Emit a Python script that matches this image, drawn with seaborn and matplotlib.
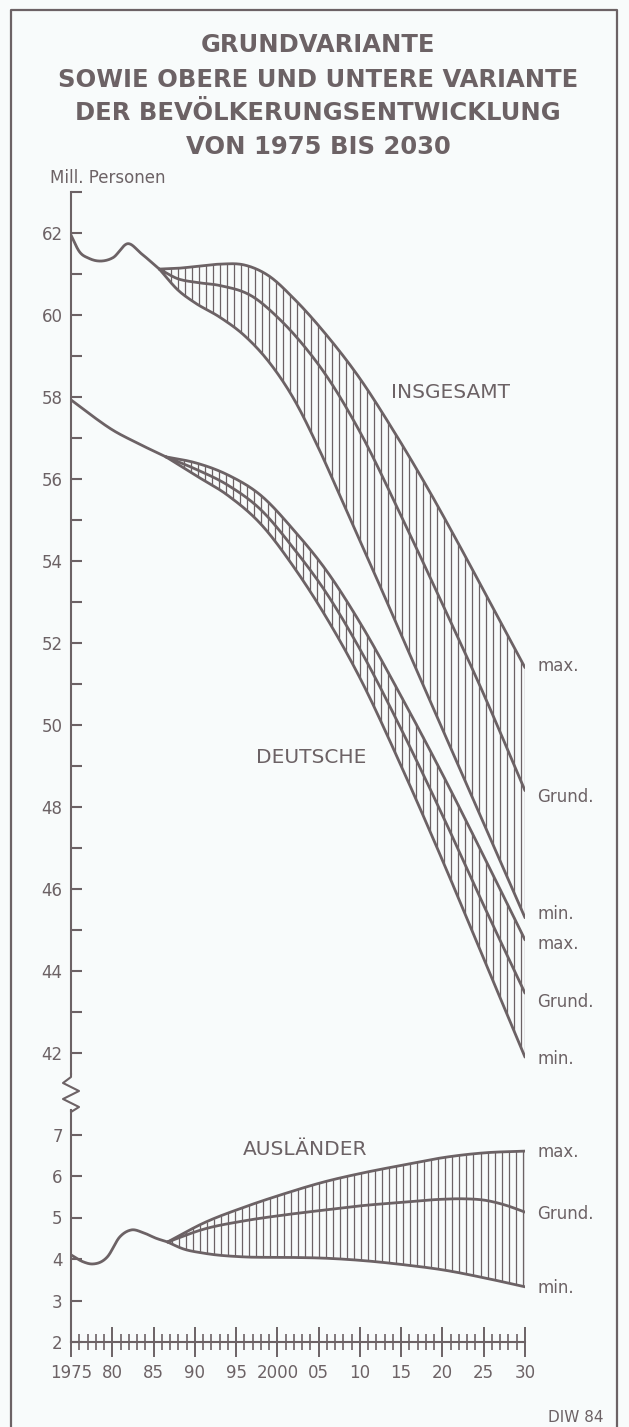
import numpy as np
import pandas as pd
import matplotlib
matplotlib.use("Agg")
import matplotlib.pyplot as plt
from matplotlib.lines import Line2D
import seaborn as sns

# ---- data (Mill. Personen) ----
# Insgesamt: common part up to the fork, then three variants
ins_common_years = [1975, 1976, 1977.2, 1978.9, 1980.1, 1981.9, 1983.5, 1985.7]
ins_common_vals = [61.95, 61.55, 61.38, 61.32, 61.40, 61.74, 61.50, 61.12]
ins_max_years = [1985.7, 1988, 1990, 1993, 1996, 1999, 2002, 2006, 2010, 2014, 2018, 2022, 2026, 2030]
ins_max_vals = [61.12, 61.14, 61.18, 61.24, 61.22, 60.95, 60.40, 59.50, 58.45, 57.20, 55.85, 54.40, 52.90, 51.40]
ins_grund_years = [1985.7, 1988, 1990, 1993, 1997, 2000, 2003, 2006, 2010, 2015, 2020, 2025, 2030]
ins_grund_vals = [61.12, 60.88, 60.80, 60.72, 60.45, 59.95, 59.30, 58.50, 57.15, 55.10, 52.95, 50.75, 48.40]
ins_min_years = [1985.7, 1988, 1990, 1993, 1996, 1999, 2002, 2005, 2008, 2011, 2015, 2020, 2025, 2030]
ins_min_vals = [61.12, 60.60, 60.30, 59.95, 59.50, 58.85, 57.95, 56.75, 55.40, 54.05, 52.20, 49.90, 47.60, 45.30]

# Deutsche
deu_common_years = [1975, 1977.5, 1980, 1983, 1986.5]
deu_common_vals = [57.93, 57.55, 57.20, 56.88, 56.54]
deu_branch_years = [1986.5, 1990, 1994, 1998, 2002, 2006, 2010, 2015, 2020, 2025, 2030]
deu_max_vals = [56.54, 56.40, 56.10, 55.60, 54.75, 53.75, 52.50, 50.70, 48.80, 46.80, 44.76]
deu_grund_vals = [56.54, 56.25, 55.85, 55.25, 54.30, 53.20, 51.85, 49.90, 47.80, 45.60, 43.46]
deu_min_vals = [56.54, 56.10, 55.60, 54.90, 53.85, 52.60, 51.15, 49.00, 46.70, 44.30, 41.90]

# Auslaender
aus_common_years = [1975, 1976.5, 1977.6, 1979.4, 1980.9, 1982.3, 1983.8, 1985.3, 1986.7]
aus_common_vals = [4.10, 3.93, 3.88, 4.05, 4.53, 4.70, 4.63, 4.50, 4.41]
aus_max_years = [1986.7, 1991.1, 1996, 2000.8, 2005.7, 2010.5, 2015.4, 2020.3, 2025.2, 2030]
aus_max_vals = [4.41, 4.87, 5.25, 5.57, 5.86, 6.08, 6.27, 6.45, 6.56, 6.60]
aus_grund_years = [1986.7, 1991.1, 1996, 2000.8, 2005.7, 2010.5, 2015.4, 2020, 2022.7, 2025, 2027.6, 2030]
aus_grund_vals = [4.41, 4.72, 4.92, 5.06, 5.18, 5.29, 5.37, 5.44, 5.45, 5.42, 5.30, 5.13]
aus_min_years = [1986.7, 1988.5, 1991.1, 1996, 2000.8, 2005.7, 2010.5, 2015.4, 2020.3, 2025.2, 2030]
aus_min_vals = [4.41, 4.25, 4.14, 4.05, 4.04, 4.02, 3.96, 3.86, 3.73, 3.54, 3.33]

x_ticks = [1975, 1980, 1985, 1990, 1995, 2000, 2005, 2010, 2015, 2020, 2025, 2030]
x_labels = ["1975", "80", "85", "90", "95", "2000", "05", "10", "15", "20", "25", "30"]

title_lines = ["GRUNDVARIANTE", "SOWIE OBERE UND UNTERE VARIANTE",
               "DER BEVÖLKERUNGSENTWICKLUNG", "VON 1975 BIS 2030"]

INK = "#6c6265"
BG = "#f8fbfb"
W, H = 629, 1427

sns.set_theme(style="white")
plt.rcParams["font.family"] = ["DejaVu Sans"]


def smooth(xp, yp, n=300):
    # cubic hermite through the read points, only for drawing smooth curves
    xp = np.asarray(xp, float)
    yp = np.asarray(yp, float)
    m = np.gradient(yp, xp)
    xs = np.linspace(xp[0], xp[-1], n)
    i = np.clip(np.searchsorted(xp, xs, side="right") - 1, 0, len(xp) - 2)
    h = xp[i + 1] - xp[i]
    t = (xs - xp[i]) / h
    h00 = 2 * t**3 - 3 * t**2 + 1
    h10 = t**3 - 2 * t**2 + t
    h01 = -2 * t**3 + 3 * t**2
    h11 = t**3 - t**2
    ys = h00 * yp[i] + h10 * h * m[i] + h01 * yp[i + 1] + h11 * h * m[i + 1]
    return xs, ys


def draw_group(ax, common, branches, hatch_step=0.85):
    cx, cy = smooth(*common)
    sns.lineplot(x=cx, y=cy, ax=ax, color=INK, lw=2.0, estimator=None, sort=False)
    curves = []
    for bx, by in branches:
        sx, sy = smooth(bx, by)
        curves.append((sx, sy))
        sns.lineplot(x=sx, y=sy, ax=ax, color=INK, lw=2.0, estimator=None, sort=False)
    # vertical hatching between upper and lower variant
    (mx, my), (nx, ny) = curves[0], curves[-1]
    start = max(mx[0], nx[0])
    hx = np.arange(start + hatch_step * 0.6, 2030, hatch_step)
    hx = np.append(hx, 2030)
    ax.vlines(hx, np.interp(hx, nx, ny), np.interp(hx, mx, my), color=INK, lw=0.9)


fig = plt.figure(figsize=(W / 100, H / 100), dpi=100)
fig.patch.set_facecolor(BG)

left = 71 / W
width = 454 / W
ax1 = fig.add_axes([left, 1 - 1073.5 / H, width, (1073.5 - 192) / H])
ax2 = fig.add_axes([left, 1 - 1342 / H, width, (1342 - 1109.6) / H])

for ax in (ax1, ax2):
    ax.set_facecolor("none")
    ax.set_xlim(1975, 2030)
    for s in ("top", "right"):
        ax.spines[s].set_visible(False)
    ax.spines["left"].set_color(INK)
    ax.spines["left"].set_linewidth(1.5)

# upper panel
ax1.set_ylim(41.5, 63)
ax1.spines["bottom"].set_visible(False)
ax1.set_xticks([])
ax1.set_yticks(range(42, 63, 2))
ax1.set_yticks(range(43, 64, 2), minor=True)
ax1.tick_params(axis="y", which="both", direction="in", length=8, width=1.5,
                color=INK, labelcolor=INK, labelsize=12, pad=6, left=True)

draw_group(ax1, (ins_common_years, ins_common_vals),
           [(ins_max_years, ins_max_vals), (ins_grund_years, ins_grund_vals),
            (ins_min_years, ins_min_vals)])
draw_group(ax1, (deu_common_years, deu_common_vals),
           [(deu_branch_years, deu_max_vals), (deu_branch_years, deu_grund_vals),
            (deu_branch_years, deu_min_vals)])

# lower panel
ax2.set_ylim(2, 7.6)
ax2.spines["bottom"].set_color(INK)
ax2.spines["bottom"].set_linewidth(1.5)
ax2.set_yticks(range(2, 8))
ax2.tick_params(axis="y", which="both", direction="in", length=8, width=1.5,
                color=INK, labelcolor=INK, labelsize=12, pad=6, left=True)
ax2.set_xticks(x_ticks)
ax2.set_xticklabels(x_labels, fontsize=12)
ax2.set_xticks(range(1975, 2031), minor=True)
ax2.tick_params(axis="x", which="major", direction="inout", length=21, width=1.4,
                color=INK, labelcolor=INK, pad=5, bottom=True)
ax2.tick_params(axis="x", which="minor", direction="inout", length=12, width=1.2,
                color=INK, bottom=True)

draw_group(ax2, (aus_common_years, aus_common_vals),
           [(aus_max_years, aus_max_vals), (aus_grund_years, aus_grund_vals),
            (aus_min_years, aus_min_vals)])

for ax in (ax1, ax2):
    ax.set_xlabel("")
    ax.set_ylabel("")

# curve labels
lab = dict(color=INK, fontsize=12, ha="left", va="center")
ax1.text(2031.5, 51.44, "max.", **lab)
ax1.text(2031.5, 48.25, "Grund.", **lab)
ax1.text(2031.5, 45.40, "min.", **lab)
ax1.text(2031.5, 44.65, "max.", **lab)
ax1.text(2031.5, 43.25, "Grund.", **lab)
ax1.text(2031.5, 41.85, "min.", **lab)
ax2.text(2031.5, 6.58, "max.", **lab)
ax2.text(2031.5, 5.08, "Grund.", **lab)
ax2.text(2031.5, 3.30, "min.", **lab)

grp = dict(color=INK, fontsize=14.5, ha="center", va="center")
ax1.text(2021.0, 58.1, "INSGESAMT", **grp)
ax1.text(2004.1, 49.2, "DEUTSCHE", **grp)
ax2.text(2003.4, 6.63, "AUSLÄNDER", **grp)

# title, unit, source
for txt, y in zip(title_lines, [45, 80, 113, 147]):
    fig.text(318 / W, 1 - y / H, txt, ha="center", va="center", color=INK,
             fontsize=17.5, fontweight="bold")
fig.text(50 / W, 1 - 178 / H, "Mill. Personen", ha="left", va="center",
         color=INK, fontsize=12)
fig.text(604 / W, 1 - 1418 / H, "DIW 84", ha="right", va="center",
         color=INK, fontsize=11)

# axis break zigzag between the panels
zx = [71, 71, 63, 79, 63, 79, 71, 71]
zy = [1073, 1077, 1083, 1091, 1099, 1107, 1112, 1110]
fig.add_artist(Line2D([v / W for v in zx], [1 - v / H for v in zy],
                      transform=fig.transFigure, color=INK, lw=1.5))

# frame of the original figure box
fx = [11, 11, 617, 617]
fy = [1427, 10, 10, 1427]
fig.add_artist(Line2D([v / W for v in fx], [1 - v / H for v in fy],
                      transform=fig.transFigure, color=INK, lw=1.6))

fig.savefig("out.png", dpi=100, facecolor=BG)
